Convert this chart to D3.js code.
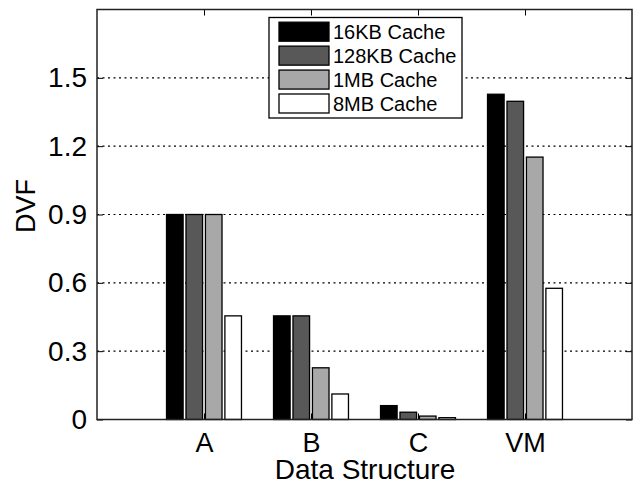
<!DOCTYPE html>
<html>
<head>
<meta charset="utf-8">
<script src="https://cdn.jsdelivr.net/npm/d3@7"></script>
<style>
  html, body { margin: 0; padding: 0; background: #fff; }
  svg { display: block; font-family: "Liberation Sans", Arial, Helvetica, sans-serif; }
</style>
</head>
<body>
<svg id="chart" width="633" height="485"></svg>
<script>
// Data: DVF per data structure for each cache size
const categories = ["A", "B", "C", "VM"];
const seriesNames = ["16KB Cache", "128KB Cache", "1MB Cache", "8MB Cache"];
const cache16KB  = [0.9,  0.455, 0.061, 1.428];
const cache128KB = [0.9,  0.455, 0.032, 1.397];
const cache1MB   = [0.9,  0.227, 0.015, 1.152];
const cache8MB   = [0.455, 0.112, 0.008, 0.576];
const yTicks = [0, 0.3, 0.6, 0.9, 1.2, 1.5];
const yTickLabels = ["0", "0.3", "0.6", "0.9", "1.2", "1.5"];

const seriesValues = [cache16KB, cache128KB, cache1MB, cache8MB];
const fills = ["#000000", "#585858", "#a8a8a8", "#ffffff"];

const svg = d3.select("#chart");
const plotLeft = 97, plotRight = 632, plotTop = 9.5, plotBottom = 419.5;

// category positions 1..4 inside an x range of 0..5
const x = d3.scaleLinear().domain([0, 5]).range([plotLeft, plotRight]);
const y = d3.scaleLinear().domain([0, 1.8]).range([plotBottom, plotTop]);

const nSeries = seriesValues.length;
const step = 0.1818;      // spacing between bars of one group (x units)
const barW = 0.155;       // bar width (x units)

// dotted horizontal grid
const gridG = svg.append("g");
gridG.selectAll("line")
  .data(yTicks.filter(d => d > 0))
  .join("line")
  .attr("x1", plotLeft).attr("x2", plotRight)
  .attr("y1", d => y(d)).attr("y2", d => y(d))
  .attr("stroke", "#000")
  .attr("stroke-width", 1.1)
  .attr("stroke-dasharray", "2,3.5");

// bars
seriesValues.forEach((vals, s) => {
  svg.append("g").selectAll("rect")
    .data(vals)
    .join("rect")
    .attr("x", (d, i) => x(i + 1 + (s - (nSeries - 1) / 2) * step - barW / 2))
    .attr("width", x(barW) - x(0))
    .attr("y", d => y(d))
    .attr("height", d => y(0) - y(d))
    .attr("fill", fills[s])
    .attr("stroke", "#000")
    .attr("stroke-width", 1.3);
});

// axes with inward ticks on all four sides
const tickLen = 6;
const axisLeft = d3.axisLeft(y).tickValues(yTicks)
  .tickFormat((d, i) => yTickLabels[i]).tickSizeInner(-tickLen).tickSizeOuter(0).tickPadding(tickLen + 4);
const gL = svg.append("g").attr("transform", `translate(${plotLeft},0)`).call(axisLeft);
gL.select(".domain").remove();
gL.selectAll("text").attr("font-size", 28).attr("fill", "#000").attr("font-family", null);
gL.selectAll("line").attr("stroke", "#000");

const axisRight = d3.axisRight(y).tickValues(yTicks).tickFormat("").tickSizeInner(-tickLen).tickSizeOuter(0);
const gR = svg.append("g").attr("transform", `translate(${plotRight},0)`).call(axisRight);
gR.select(".domain").remove();
gR.selectAll("line").attr("stroke", "#000");

const axisBottom = d3.axisBottom(x).tickValues([1, 2, 3, 4])
  .tickFormat((d, i) => categories[i]).tickSizeInner(-tickLen).tickSizeOuter(0).tickPadding(tickLen + 7);
const gB = svg.append("g").attr("transform", `translate(0,${plotBottom})`).call(axisBottom);
gB.select(".domain").remove();
gB.selectAll("text").attr("font-size", 27).attr("fill", "#000").attr("font-family", null);
gB.selectAll("line").attr("stroke", "#000");

const axisTop = d3.axisTop(x).tickValues([1, 2, 3, 4]).tickFormat("").tickSizeInner(-tickLen).tickSizeOuter(0);
const gT = svg.append("g").attr("transform", `translate(0,${plotTop})`).call(axisTop);
gT.select(".domain").remove();
gT.selectAll("line").attr("stroke", "#000");

// plot frame
svg.append("rect")
  .attr("x", plotLeft).attr("y", plotTop)
  .attr("width", plotRight - plotLeft).attr("height", plotBottom - plotTop)
  .attr("fill", "none").attr("stroke", "#222").attr("stroke-width", 1.5);

// axis titles
svg.append("text")
  .attr("x", 365).attr("y", 479)
  .attr("text-anchor", "middle").attr("font-size", 28)
  .text("Data Structure");

svg.append("text")
  .attr("transform", "translate(35,206) rotate(-90)")
  .attr("text-anchor", "middle").attr("font-size", 27)
  .text("DVF");

// legend
const lg = svg.append("g");
lg.append("rect")
  .attr("x", 269).attr("y", 17.5).attr("width", 193).attr("height", 100.5)
  .attr("fill", "#fff").attr("stroke", "#000").attr("stroke-width", 1.3);
const rowY = d3.scaleLinear().domain([0, 3]).range([31.7, 103.5]);
seriesNames.forEach((name, s) => {
  lg.append("rect")
    .attr("x", 279).attr("y", rowY(s) - 9.5).attr("width", 50).attr("height", 19)
    .attr("fill", fills[s]).attr("stroke", "#000").attr("stroke-width", 1.3);
  lg.append("text")
    .attr("x", 333).attr("y", rowY(s)).attr("dy", "0.36em")
    .attr("font-size", 20).text(name);
});
</script>
</body>
</html>
